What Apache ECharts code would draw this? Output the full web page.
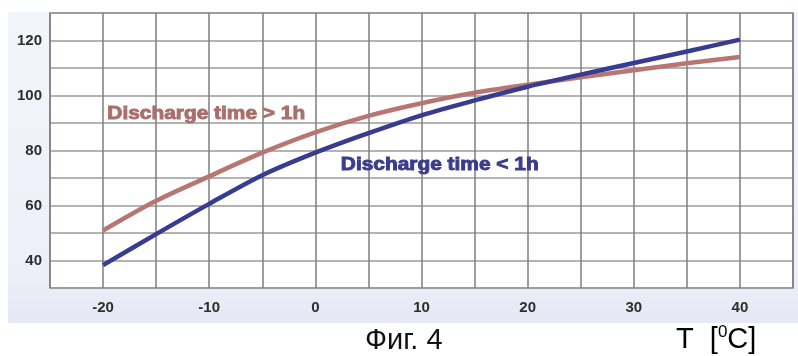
<!DOCTYPE html>
<html>
<head>
<meta charset="utf-8">
<script src="https://cdn.jsdelivr.net/npm/echarts@6/dist/echarts.min.js"></script>
<style>
  html, body { margin: 0; padding: 0; background: #ffffff; }
  #chart { width: 798px; height: 356px; }
</style>
</head>
<body>
<div id="chart"></div>
<script>
// Temperature, °C
const temperatures = [-20, -15, -10, -5, 0, 5, 10, 15, 20, 25, 30, 35, 40];
// Capacity, % — short discharge (< 1 h)
const shortDischarge = [38.3, 49.6, 60.6, 71.0, 79.2, 86.3, 92.8, 98.2, 103.2, 107.6, 111.8, 116.0, 120.3];
// Capacity, % — long discharge (> 1 h)
const longDischarge = [50.9, 61.7, 70.6, 79.2, 86.6, 92.6, 97.2, 101.0, 103.9, 106.6, 109.2, 111.7, 114.0];
const xLabels = [-20, -10, 0, 10, 20, 30, 40];
const yLabels = [40, 60, 80, 100, 120];

const pair = (xs, ys) => xs.map((x, i) => [x, ys[i]]);
const FONT = 'Liberation Sans, Arial, sans-serif';
const axisFont = { fontFamily: FONT, fontWeight: 'bold', fontSize: 15, color: '#2e2e2e' };

const chart = echarts.init(document.getElementById('chart'), null, { renderer: 'canvas' });
chart.setOption({
  animation: false,
  backgroundColor: '#ffffff',
  grid: {
    left: 50, right: 5, top: 13, bottom: 68,
    show: true, backgroundColor: '#ffffff', borderColor: '#8c8c8c', borderWidth: 1.5
  },
  xAxis: {
    type: 'value', min: -25, max: 45, interval: 5,
    axisLine: { show: false },
    axisTick: { show: false },
    axisLabel: Object.assign({
      margin: 12,
      formatter: v => (xLabels.includes(v) ? String(v) : '')
    }, axisFont),
    splitLine: { show: true, lineStyle: { color: '#7e7e7e', width: 1.5 } }
  },
  yAxis: {
    type: 'value', min: 30, max: 130, interval: 10,
    axisLine: { show: false },
    axisTick: { show: false },
    axisLabel: Object.assign({
      margin: 8,
      formatter: v => (yLabels.includes(v) ? String(v) : '')
    }, axisFont),
    splitLine: { show: true, lineStyle: { color: '#9a9a9a', width: 1.5 } }
  },
  series: [
    {
      name: 'Discharge time > 1h', type: 'line', smooth: 0.3, symbol: 'none',
      data: pair(temperatures, longDischarge),
      lineStyle: { color: '#b87672', width: 4.5 },
      z: 3
    },
    {
      name: 'Discharge time < 1h', type: 'line', smooth: 0.3, symbol: 'none',
      data: pair(temperatures, shortDischarge),
      lineStyle: { color: '#383b92', width: 4.5 },
      z: 4
    }
  ]
});

// Curve captions placed in data coordinates, drawn wide and heavy
const caption = (text, color, at) => {
  const p = chart.convertToPixel({ gridIndex: 0 }, at);
  return {
    type: 'text', x: p[0], y: p[1], scaleX: 1.16, z: 10, silent: true,
    style: {
      text: text, fill: color, stroke: color, lineWidth: 0.9,
      fontFamily: FONT, fontWeight: 'bold', fontSize: 18,
      textVerticalAlign: 'middle'
    }
  };
};

chart.setOption({
  graphic: [
    {
      type: 'rect', z: -10, silent: true,
      shape: { x: 8, y: 12, width: 790, height: 311 },
      style: {
        fill: new echarts.graphic.LinearGradient(0, 0, 0, 1, [
          { offset: 0, color: '#f3f5fc' },
          { offset: 0.8, color: '#eef0f9' },
          { offset: 1, color: '#e6e8f4' }
        ])
      }
    },
    caption('Discharge time > 1h', '#a96f6c', [-19.6, 93.2]),
    caption('Discharge time < 1h', '#3b3c8c', [2.4, 74.8]),
    {
      type: 'text', left: 365, top: 326,
      style: { text: 'Фиг. 4', fontFamily: FONT, fontSize: 29, fill: '#111' }
    },
    {
      type: 'text', left: 676, top: 324,
      style: {
        text: '{t|T  [}{s|0}{t|C]}',
        rich: {
          t: { fontFamily: FONT, fontSize: 29, color: '#111' },
          s: { fontFamily: FONT, fontSize: 17, color: '#111', verticalAlign: 'top', padding: [0, 0, 14, 0] }
        }
      }
    }
  ]
});
</script>
</body>
</html>
